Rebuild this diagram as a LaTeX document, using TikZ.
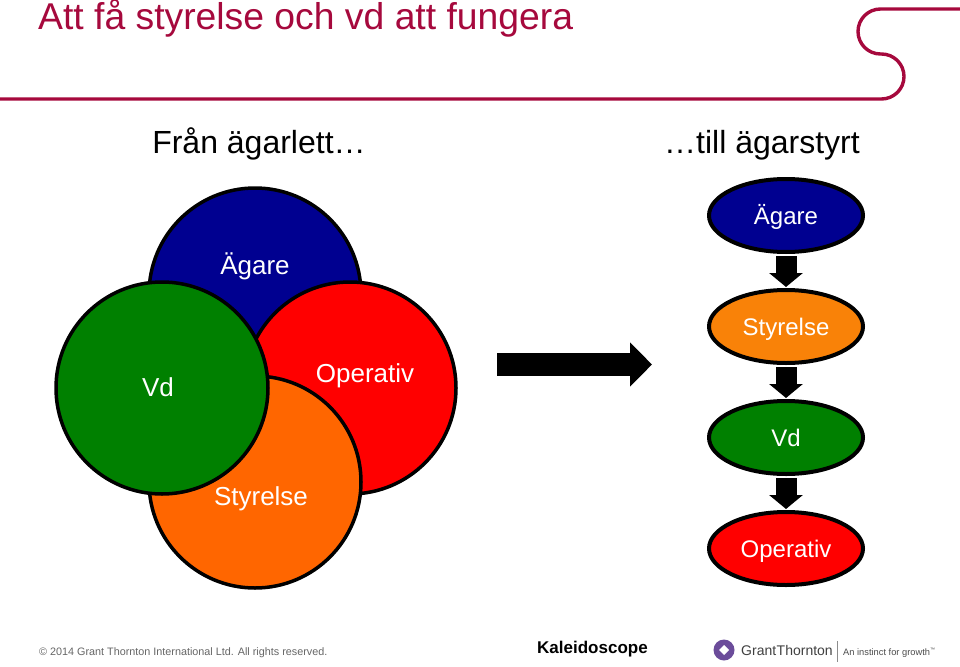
\documentclass[tikz,border=0pt]{standalone}
\usepackage{fontspec}
\setmainfont{Liberation Sans}
\usetikzlibrary{shapes.geometric,arrows.meta,calc}
\definecolor{gtred}{HTML}{A6093D}
\definecolor{navyc}{HTML}{000090}
\definecolor{orangec}{HTML}{FF6600}
\definecolor{orangee}{HTML}{F98208}
\definecolor{greenc}{HTML}{008000}
\definecolor{gtpurple}{HTML}{6B4C9A}
\tikzset{
  x=1pt,y=-1pt,
  bigcircle/.style={circle,draw=black,line width=3.5pt,minimum size=212pt,inner sep=0pt,outer sep=0pt},
  stage/.style={ellipse,draw=black,line width=4pt,minimum width=154pt,minimum height=73pt,inner sep=0pt,text=white,text height=18pt,text depth=0pt,font=\fontsize{24}{28}\selectfont},
  circlabel/.style={text=white,font=\fontsize{26}{30}\selectfont,inner sep=0pt},
  heading/.style={text=black,font=\fontsize{32}{36}\selectfont,inner sep=0pt},
  blockarrow/.style={line width=21pt,draw=black,-{Triangle[length=14pt,width=33pt]}},
  bigarrow/.style={line width=23pt,draw=black,-{Triangle[length=22pt,width=43pt]}},
}
\begin{document}
\begin{tikzpicture}
\useasboundingbox (0,0) rectangle (960,666);
\fill[white] (0,0) rectangle (960,666);
% title and rule
\node[anchor=base west,text=gtred,font=\fontsize{37.3}{40}\selectfont,inner sep=0pt] (title) at (38,30) {Att få styrelse och vd att fungera};
\draw[gtred,line width=3.4pt] (0,99) -- (881.5,99) arc[start angle=-90,end angle=90,radius=22.5pt] -- (880.5,54)
  arc[start angle=-90,end angle=-270,radius=22.5pt] -- (960,9);
\node[heading,anchor=base] (h1) at (259,153) {Från ägarlett…};
\node[heading,anchor=base] (h2) at (762,153) {…till ägarstyrt};
% circles
\node[bigcircle,fill=navyc] (cA) at (255,294) {};
\node[bigcircle,fill=red] (cO) at (350,388) {};
\node[bigcircle,fill=orangec] (cS) at (255,482) {};
\node[bigcircle,fill=greenc] (cV) at (162,388) {};
\node[circlabel,anchor=base] (tA) at (255,274) {Ägare};
\node[circlabel,anchor=base] (tO) at (365,382) {Operativ};
\node[circlabel,anchor=base] (tS) at (261,505) {Styrelse};
\node[circlabel,anchor=base] (tV) at (158,396) {Vd};
% big arrow
\coordinate (bs) at (497,364.5);
\coordinate (be) at (652,364.5);
\draw[bigarrow] (bs) -- (be);
% ellipses
\node[stage,fill=navyc] (e1) at (786,215.5) {Ägare};
\node[stage,fill=orangee] (e2) at (786,326.5) {Styrelse};
\node[stage,fill=greenc] (e3) at (786,437.5) {Vd};
\node[stage,fill=red] (e4) at (786,548.5) {Operativ};
\draw[blockarrow,shorten <=2pt,shorten >=1pt] (e1) -- (e2);
\draw[blockarrow,shorten <=2pt,shorten >=1pt] (e2) -- (e3);
\draw[blockarrow,shorten <=2pt,shorten >=1pt] (e3) -- (e4);
% footer
\node[anchor=base west,text=black!60,font=\fontsize{10.8}{14}\selectfont,inner sep=0pt] (foot) at (39,655) {© 2014 Grant Thornton International Ltd. All rights reserved.};
\node[anchor=base west,text=black,font=\bfseries\fontsize{17}{18}\selectfont,inner sep=0pt] (kal) at (537,653.5) {Kaleidoscope};
\fill[gtpurple] (724,650) circle[radius=10.5pt];
\fill[white] (724,645) -- (729,650) -- (724,655) -- (719,650) -- cycle;
\node[anchor=base west,text=black!75,font=\fontsize{14}{18}\selectfont,inner sep=0pt] (gt) at (741,655) {Grant\hspace{0.5pt}Thornton};
\draw[black!45,line width=0.7pt] (837,641) -- (837,662);
\node[anchor=base west,text=black!70,font=\fontsize{9.3}{12}\selectfont,inner sep=0pt] (tag) at (843,655) {An instinct for growth\textsuperscript{\tiny ™}};
\end{tikzpicture}
\end{document}
